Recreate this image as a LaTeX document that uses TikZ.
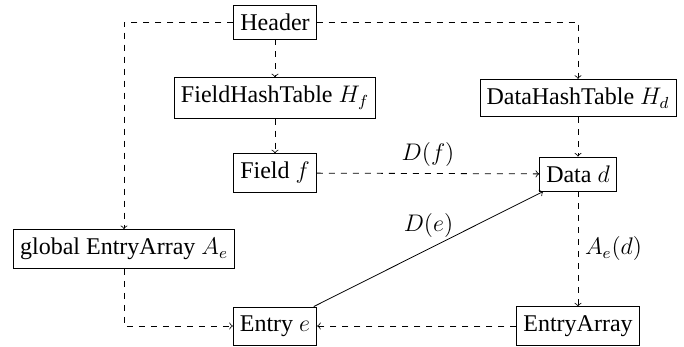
\documentclass[tikz,border=0pt]{standalone}
\usepackage{fontspec}
\setmainfont{Liberation Serif}
\begin{document}
\begin{tikzpicture}[
    x=0.5pt, y=-0.5pt,
    box/.style={draw, inner ysep=4.3pt, font=\fontsize{12}{14}\selectfont},
    link/.style={->, dashed},
    lbl/.style={font=\fontsize{12}{14}\selectfont}
]
  \useasboundingbox (0,0) rectangle (684,347);

  % Blocks
  \node[box] (header) at (275,22) {Header};
  \node[box] (fht) at (275,98) {FieldHashTable $H_f$};
  \node[box] (dht) at (578,98) {DataHashTable $H_d$};
  \node[box] (field) at (275,173) {Field $f$};
  \node[box] (data) at (578,174) {Data $d$};
  \node[box] (gea) at (124,249) {global EntryArray $A_e$};
  \node[box] (entry) at (275,326) {Entry $e$};
  \node[box] (ea) at (578,326) {EntryArray};

  % Dashed links
  \draw[link] (header.west) -| (gea.north);
  \draw[link] (header.east) -| (dht.north);
  \draw[link] (header) -- (fht);
  \draw[link] (fht) -- (field);
  \draw[link] (dht) -- (data);
  \draw[link] (field) -- (data) node[lbl, midway, above] {$D(f)$};
  \draw[link] (data) -- (ea) node[lbl, midway, right] {$A_e(d)$};
  \draw[link] (ea) -- (entry);
  \draw[link] (gea.south) |- (entry.west);

  % Solid link
  \draw[->] (entry) -- (data) node[lbl, midway, above=2pt] {$D(e)$};

\end{tikzpicture}
\end{document}
